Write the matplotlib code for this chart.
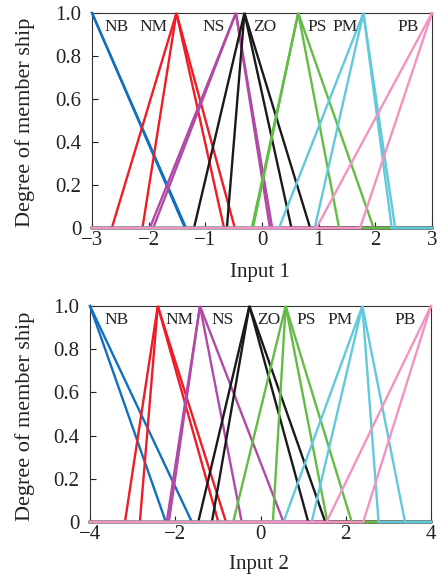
import numpy as np
import matplotlib
matplotlib.use('Agg')
import matplotlib.pyplot as plt

plt.rcParams['font.family'] = ['Liberation Serif', 'DejaVu Serif']

# --- Data: membership function labels and colours ---
mf_names = ['NB', 'NM', 'NS', 'ZO', 'PS', 'PM', 'PB']
mf_colors = ['#1170BD', '#EE1D25', '#B04AA6', '#1A1A1A', '#62BC45', '#62C8DB', '#F293C0']

# Input 1: triangles (left foot, peak, right foot), two sets per label
in1_range = (-3, 3)
in1_set_a = [(-3.0, -3.0, -1.36), (-2.65, -1.51, -0.67), (-1.98, -0.46, 0.14),
             (-1.20, -0.31, 0.52), (-0.18, 0.64, 1.36), (0.30, 1.79, 2.29),
             (0.96, 3.0, 3.0)]
in1_set_b = [(-3.0, -3.0, -1.34), (-2.11, -1.51, -0.48), (-1.92, -0.46, 0.18),
             (-0.62, -0.31, 0.85), (-0.16, 0.64, 1.97), (0.93, 1.79, 2.35),
             (1.73, 3.0, 3.0)]
in1_label_x = [-2.56, -1.92, -0.86, 0.05, 0.97, 1.46, 2.58]
in1_ticks = [-3, -2, -1, 0, 1, 2, 3]
in1_ticklabels = ['\u22123', '\u22122', '\u22121', '0', '1', '2', '3']

# Input 2
in2_range = (-4, 4)
in2_set_a = [(-4.0, -4.0, -2.22), (-3.18, -2.41, -0.99), (-2.20, -1.42, -0.44),
             (-1.46, -0.26, 1.12), (-0.64, 0.59, 1.57), (0.54, 2.39, 2.77),
             (1.55, 4.0, 4.0)]
in2_set_b = [(-4.0, -4.0, -1.61), (-2.83, -2.41, -0.81), (-2.15, -1.42, 0.54),
             (-1.14, -0.26, 1.52), (0.29, 0.59, 2.14), (1.20, 2.39, 3.39),
             (2.41, 4.0, 4.0)]
in2_label_x = [-3.37, -1.90, -0.89, 0.19, 1.07, 1.87, 3.39]
in2_ticks = [-4, -2, 0, 2, 4]
in2_ticklabels = ['\u22124', '\u22122', '0', '2', '4']

y_ticks = [0, 0.2, 0.4, 0.6, 0.8, 1.0]
y_ticklabels = ['0', '0.2', '0.4', '0.6', '0.8', '1.0']


def tri_points(tri, xr):
    a, b, c = tri
    xs = [xr[0], a, b, c, xr[1]]
    ys = [0, 0, 1, 0, 0]
    # shoulder functions at the edges
    if b <= xr[0]:
        xs, ys = [xr[0], c, xr[1]], [1, 0, 0]
    elif b >= xr[1]:
        xs, ys = [xr[0], a, xr[1]], [0, 0, 1]
    return xs, ys


def draw_panel(ax, xr, set_a, set_b, label_x, ticks, ticklabels, xlabel,
               ylab_x, xlab_y):
    for i, col in enumerate(mf_colors):
        for tri in (set_a[i], set_b[i]):
            xs, ys = tri_points(tri, xr)
            ax.plot(xs, ys, color=col, lw=1.7, clip_on=False, zorder=3,
                    solid_joinstyle='miter')
        ax.text(label_x[i], 0.935, mf_names[i], ha='center', va='center',
                fontsize=12.5, color='#222222')
    ax.set_xlim(*xr)
    ax.set_ylim(0, 1)
    ax.set_xticks(ticks)
    ax.set_xticklabels(ticklabels)
    ax.set_yticks(y_ticks)
    ax.set_yticklabels(y_ticklabels)
    ax.tick_params(direction='in', length=4, width=0.8, labelsize=15,
                   colors='#222222')
    ax.tick_params(axis='x', pad=2.5)
    ax.tick_params(axis='y', pad=7.5)
    for sp in ax.spines.values():
        sp.set_linewidth(0.8)
        sp.set_color('#333333')
    ax.set_xlabel(xlabel, fontsize=15, color='#222222', va='center')
    ax.xaxis.set_label_coords(0.495, xlab_y)
    ax.set_ylabel('Degree of member ship', fontsize=16, color='#222222',
                  va='center')
    ax.yaxis.set_label_coords(ylab_x, 0.49)


fig = plt.figure(figsize=(4.41, 5.81), dpi=100)
ax1 = fig.add_axes([92 / 441, 1 - 228 / 581, 340 / 441, 215 / 581])
ax2 = fig.add_axes([90 / 441, 1 - 522 / 581, 341 / 441, 216 / 581])

draw_panel(ax1, in1_range, in1_set_a, in1_set_b, in1_label_x,
           in1_ticks, in1_ticklabels, 'Input 1', -0.197, -0.205)
draw_panel(ax2, in2_range, in2_set_a, in2_set_b, in2_label_x,
           in2_ticks, in2_ticklabels, 'Input 2', -0.19, -0.199)

fig.savefig('out.png', dpi=100)
